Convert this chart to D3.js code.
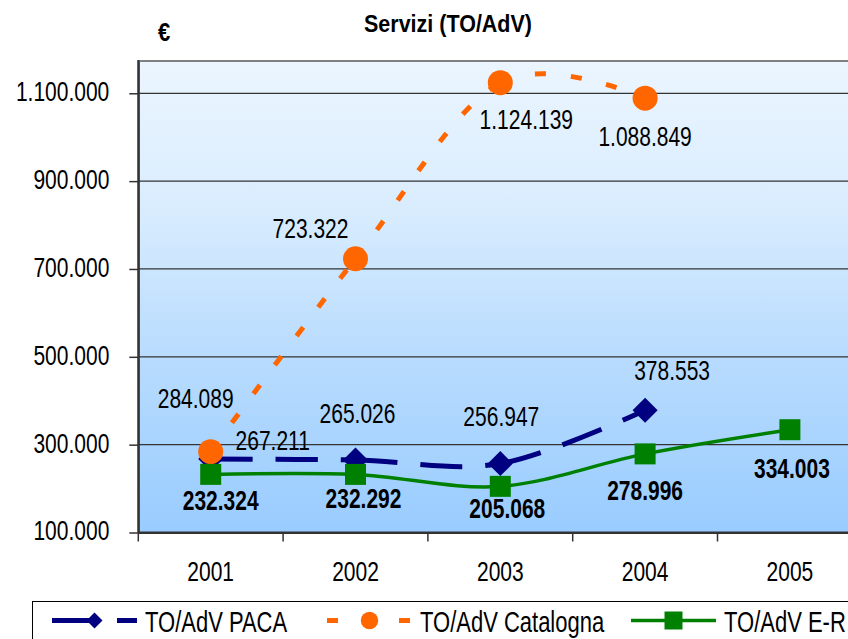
<!DOCTYPE html>
<html>
<head>
<meta charset="utf-8">
<script src="https://cdn.jsdelivr.net/npm/d3@7"></script>
<style>
body{margin:0;background:#fff;overflow:hidden;}
text{font-family:"Liberation Sans",Arial,sans-serif;}
</style>
</head>
<body>
<svg id="chart" width="848" height="639"></svg>
<script>
const years=["2001","2002","2003","2004","2005"];
const paca=[267211,265026,256947,378553,null];
const catalogna=[284089,723322,1124139,1088849,null];
const emiliaRomagna=[232324,232292,205068,278996,334003];
const yTicks=[100000,300000,500000,700000,900000,1100000];
const seriesNames=["TO/AdV PACA","TO/AdV Catalogna","TO/AdV E-R"];

// where each data label sits, relative to its point (dx, baseline dy)
const pacaLabelPos=[[62,-9],[2,-37],[1,-38],[27,-30]];
const catalognaLabelPos=[[-15,-44],[-45,-21],[26,46],[0,48]];
const erLabelPos=[[10,36],[8,34],[7,32],[0,46],[2,48]];

const STRETCH=1.3;
const it=d3.formatLocale({decimal:",",thousands:".",grouping:[3],currency:["€",""]});
const fmt=it.format(",d");

const svg=d3.select("#chart");
const plotLeft=138.3, plotTop=61, plotBottom=532.5, plotRight=870;

const x=d3.scaleBand().domain(years).range([plotLeft,862.3]).padding(0);
const y=d3.scaleLinear().domain([100000,1173500]).range([plotBottom,plotTop]);
const cx=d=>x(d)+x.bandwidth()/2;

// background gradient
const defs=svg.append("defs");
const grad=defs.append("linearGradient").attr("id","bg").attr("x1",0).attr("y1",0).attr("x2",0).attr("y2",1);
grad.append("stop").attr("offset",0).attr("stop-color","#EBF5FF");
grad.append("stop").attr("offset",0.3).attr("stop-color","#DAEDFE");
grad.append("stop").attr("offset",0.62).attr("stop-color","#B9DCFE");
grad.append("stop").attr("offset",1).attr("stop-color","#99CCFF");

svg.append("rect").attr("x",plotLeft).attr("y",plotTop).attr("width",plotRight-plotLeft).attr("height",plotBottom-plotTop).attr("fill","url(#bg)");

// gridlines
svg.append("g").selectAll("line").data(yTicks.slice(1)).enter().append("line")
  .attr("x1",plotLeft).attr("x2",plotRight).attr("y1",d=>y(d)).attr("y2",d=>y(d))
  .attr("stroke","#333").attr("stroke-width",1.2);

svg.append("line").attr("x1",plotLeft).attr("x2",plotRight).attr("y1",plotTop).attr("y2",plotTop)
  .attr("stroke","#808080").attr("stroke-width",2);

function stretchText(g,px,py,str,size,weight,anchor,k)
{
  return g.append("text")
    .attr("transform","translate("+px+","+py+") scale(1,"+(k||STRETCH)+")")
    .attr("font-size",size)
    .attr("font-weight",weight||"normal")
    .attr("text-anchor",anchor||"middle")
    .attr("fill","#000")
    .text(str);
}

// y axis
const yAxis=svg.append("g").attr("transform","translate("+plotLeft+",0)")
  .call(d3.axisLeft(y).tickValues(yTicks).tickSize(9).tickSizeOuter(0).tickFormat(fmt));
yAxis.attr("font-size",21);
yAxis.select(".domain").attr("stroke","#333").attr("stroke-width",2);
yAxis.selectAll(".tick line").attr("stroke","#333").attr("stroke-width",1.5);
yAxis.selectAll(".tick text").attr("x",-29).attr("dy",null).attr("y",7.4/STRETCH)
  .attr("transform","scale(1,"+STRETCH+")").attr("fill","#000");

// x axis, labels centred, ticks between categories
const xAxis=svg.append("g").attr("transform","translate(0,"+plotBottom+")")
  .call(d3.axisBottom(x).tickSize(0).tickSizeOuter(0));
xAxis.attr("font-size",21);
xAxis.select(".domain").attr("stroke","#333").attr("stroke-width",2);
xAxis.selectAll(".tick text").attr("dy",null).attr("y",49/STRETCH)
  .attr("transform","scale(1,"+STRETCH+")").attr("fill","#000");
svg.append("g").selectAll("line").data(years).enter().append("line")
  .attr("x1",d=>x(d)).attr("x2",d=>x(d)).attr("y1",plotBottom).attr("y2",plotBottom+9)
  .attr("stroke","#333").attr("stroke-width",1.5);
svg.append("line").attr("x1",plotLeft).attr("x2",plotRight).attr("y1",plotBottom).attr("y2",plotBottom)
  .attr("stroke","#333").attr("stroke-width",2);
svg.append("line").attr("x1",plotLeft).attr("x2",plotLeft).attr("y1",plotTop-1).attr("y2",plotBottom)
  .attr("stroke","#333").attr("stroke-width",2);

// title and unit
stretchText(svg,448,32,"Servizi (TO/AdV)",21.5,"bold","middle",1.12);
stretchText(svg,158,41,"€",22,"bold","start",1.15);

// smoothed line split at each point, so dashes restart like in excel
const line=d3.line().x(d=>cx(d.yr)).y(d=>y(d.v)).curve(d3.curveCardinal.tension(0));
function segments(pts)
{
  const parts=line(pts).split(/(?=[MC])/);
  let out=[];
  for(let i=1;i<parts.length;i++)
  {
    const prev=parts[i-1].slice(1).split(",");
    out.push("M"+prev[prev.length-2]+","+prev[prev.length-1]+parts[i]);
  }
  return out;
}

function marker(g,type,px,py,big)
{
  let sym,size,color,rot=0;
  if(type=="diamond"){sym=d3.symbolSquare;size=big?313:128;color="#000080";rot=45;}
  if(type=="circle"){sym=d3.symbolCircle;size=big?491:238;color="#FF6600";}
  if(type=="square"){sym=d3.symbolSquare;size=big?441:324;color="#008000";}
  g.append("path").attr("d",d3.symbol(sym,size)())
    .attr("transform","translate("+px+","+py+") rotate("+rot+")")
    .attr("fill",color);
}

const series=[
  {vals:paca,color:"#000080",width:5,dash:"42,23",type:"diamond",pos:pacaLabelPos,bold:false},
  {vals:catalogna,color:"#FF6600",width:5,dash:"11,25",type:"circle",pos:catalognaLabelPos,bold:false},
  {vals:emiliaRomagna,color:"#008000",width:3.5,dash:null,type:"square",pos:erLabelPos,bold:true}
];

const plot=svg.append("g");
series.forEach(s=>{
  const pts=years.map((yr,i)=>({yr:yr,v:s.vals[i]})).filter(d=>d.v!=null);
  plot.append("g").selectAll("path").data(segments(pts)).enter().append("path")
    .attr("d",d=>d).attr("fill","none")
    .attr("stroke",s.color).attr("stroke-width",s.width)
    .attr("stroke-dasharray",s.dash);
  pts.forEach(d=>marker(plot,s.type,cx(d.yr),y(d.v),true));
});

// data labels on top
const labels=svg.append("g");
series.forEach(s=>{
  years.forEach((yr,i)=>{
    if(s.vals[i]==null) return;
    const p=s.pos[i];
    stretchText(labels,cx(yr)+p[0],y(s.vals[i])+p[1],fmt(s.vals[i]),21,s.bold?"bold":"normal");
  });
});

// legend
const leg=svg.append("g");
leg.append("rect").attr("x",32.5).attr("y",601.5).attr("width",900).attr("height",100)
  .attr("fill","#fff").attr("stroke","#000").attr("stroke-width",1);
const legX=[52,327,631];
const legY=620.5;
series.forEach((s,i)=>{
  leg.append("line").attr("x1",legX[i]).attr("x2",legX[i]+85).attr("y1",legY).attr("y2",legY)
    .attr("stroke",s.color).attr("stroke-width",s.width).attr("stroke-dasharray",s.dash);
  marker(leg,s.type,legX[i]+42.5,legY,false);
  stretchText(leg,legX[i]+93,631.7,seriesNames[i],22,"normal","start");
});
</script>
</body>
</html>
